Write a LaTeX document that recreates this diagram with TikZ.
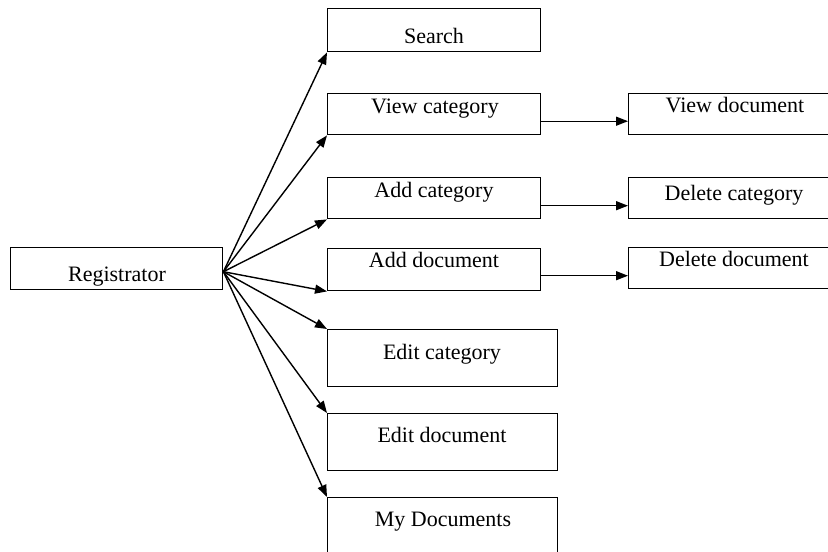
\documentclass[tikz,border=0pt]{standalone}
\usepackage{fontspec}
\setmainfont{Liberation Serif}
\usetikzlibrary{arrows.meta,calc}
\begin{document}
\begin{tikzpicture}[x=1pt,y=-1pt,
  box/.style={draw, line width=1.4pt, inner sep=0pt, anchor=north west, minimum width=213pt, minimum height=42pt},
  wbox/.style={box, minimum width=230pt, minimum height=57pt},
  lbl/.style={anchor=mid, inner sep=0pt, font=\fontsize{22}{25}\selectfont},
  arr/.style={line width=1.4pt, -{Triangle[length=12pt,width=9pt]}}]
\useasboundingbox (0,0) rectangle (828,552);
\clip (0,0) rectangle (828,552);
\fill[white] (0,0) rectangle (828,552);
% boxes
\node[box, minimum width=212pt] (reg) at (10,247) {};
\node[box, minimum height=43pt] (search) at (327,8) {};
\node[box, minimum height=41pt] (viewcat) at (327,93) {};
\node[box, minimum height=41pt] (addcat) at (327,177) {};
\node[box] (adddoc) at (327,248) {};
\node[wbox] (editcat) at (327,329) {};
\node[wbox] (editdoc) at (327,413) {};
\node[wbox] (mydocs) at (327,497) {};
\node[box, minimum height=41pt] (viewdoc) at (628,93) {};
\node[box, minimum height=41pt] (delcat) at (628,177) {};
\node[box, minimum height=41pt] (deldoc) at (628,247) {};
% labels
\node[lbl] (treg) at (117,279) {Registrator};
\node[lbl] (tsearch) at (434,41) {Search};
\node[lbl] (tviewcat) at (435,111) {View category};
\node[lbl] (taddcat) at (434,195) {Add category};
\node[lbl] (tadddoc) at (434,265) {Add document};
\node[lbl] (teditcat) at (442,357) {Edit category};
\node[lbl] (teditdoc) at (442,440) {Edit document};
\node[lbl] (tmydocs) at (443,524) {My Documents};
\node[lbl] (tviewdoc) at (735,110) {View document};
\node[lbl] (tdelcat) at (734,198) {Delete category};
\node[lbl] (tdeldoc) at (734,264) {Delete document};
% fan connectors
\coordinate (fan) at ($(reg.east)+(0,3)$);
\draw[arr] (fan) -- (search.south west);
\draw[arr] (fan) -- (viewcat.south west);
\draw[arr] (fan) -- (addcat.south west);
\draw[arr] (fan) -- (adddoc.south west);
\draw[arr] (fan) -- (editcat.north west);
\draw[arr] (fan) -- (editdoc.north west);
\draw[arr] (fan) -- (mydocs.north west);
% horizontal connectors
\draw[arr] ([yshift=-7pt]viewcat.east) -- ([yshift=-7pt]viewdoc.west);
\draw[arr] ([yshift=-7.5pt]addcat.east) -- ([yshift=-7.5pt]delcat.west);
\draw[arr] ([yshift=-6pt]adddoc.east) -- ([yshift=-6pt]adddoc.east -| deldoc.west);
\end{tikzpicture}
\end{document}
